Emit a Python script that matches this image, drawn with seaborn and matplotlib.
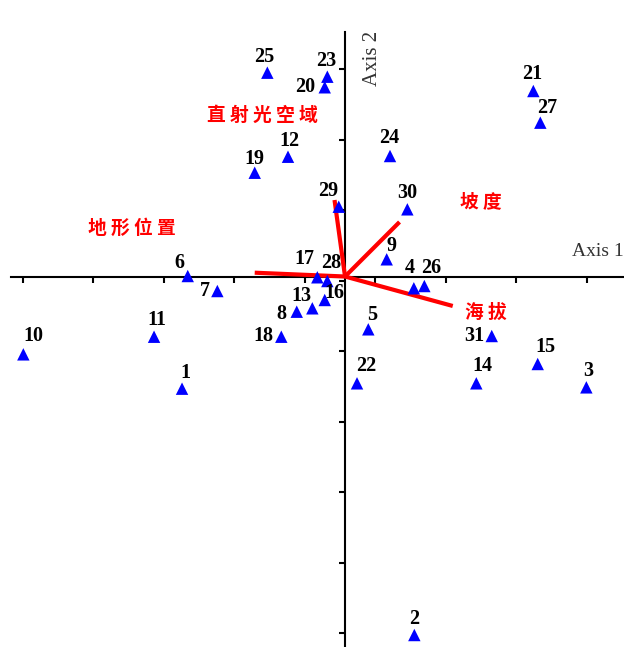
import matplotlib
matplotlib.use("Agg")
import matplotlib.pyplot as plt
import seaborn as sns
import pandas as pd

# ---- data (ordination scores, one tick interval = 1 unit) ----
sites = list(range(1, 32))
axis1 = [-2.312, 0.983, 3.423, 0.976, 0.330, -2.231, -1.811, -0.685, 0.591, -4.563,
         -2.709, -0.809, -0.464, 1.862, 2.733, -0.288, -0.393, -0.904, -1.281, -0.288,
         2.671, 0.170, -0.251, 0.638, -1.102, 1.125, 2.770, -0.251, -0.089, 0.884, 2.081]
axis2 = [-1.591, -5.085, -1.572, -0.167, -0.749, 0.007, -0.206, -0.499, 0.244, -1.104,
         -0.854, 1.699, -0.451, -1.515, -1.241, -0.333, -0.011, -0.854, 1.472, 2.684,
         2.631, -1.515, 2.834, 1.709, 2.891, -0.135, 2.182, -0.064, 0.990, 0.953, -0.844]

env_names = ["直射光空域", "地形位置", "坡度", "海拔"]
env_axis1 = [-0.149, -1.281, 0.773, 1.528]
env_axis2 = [1.085, 0.054, 0.773, -0.418]
env_label_x = [-1.177, -3.021, 1.929, 2.000]
env_label_y = [2.291, 0.688, 1.057, -0.504]

x_ticks = [-4.572 + k for k in range(9)]
y_ticks = [-5.061 + k for k in range(9)]

# label offsets (pixels) for site numbers
label_offsets = {
    1: (3, 16), 2: (0, 16), 3: (2, 16), 4: (-4, 20), 5: (4, 14), 6: (-8, 13),
    7: (-12, 0), 8: (-15, -2), 9: (5, 13), 10: (10, 18), 11: (3, 17), 12: (1, 16),
    13: (-11, 12), 14: (6, 17), 15: (8, 17), 16: (10, 7), 17: (-13, 18), 18: (-18, 1),
    19: (0, 14), 20: (-20, 0), 21: (-1, 17), 22: (9, 17), 23: (-1, 16), 24: (-1, 18),
    25: (-3, 16), 26: (7, 18), 27: (7, 15), 28: (4, 18), 29: (-11, 16), 30: (0, 16),
    31: (-17, 0),
}

df = pd.DataFrame({"site": sites, "Axis 1": axis1, "Axis 2": axis2})

sns.set_style("white")
plt.rcParams["font.family"] = ["Liberation Serif", "DejaVu Sans"]

fig = plt.figure(figsize=(6.24, 6.47), dpi=100)
ax = fig.add_axes([0, 0, 1, 1])
ax.set_xlim(-4.894, 3.957)
ax.set_ylim(-5.255, 3.922)

# axes through origin
for s in ["top", "right"]:
    ax.spines[s].set_visible(False)
ax.spines["left"].set_position(("data", 0))
ax.spines["bottom"].set_position(("data", 0))
ax.spines["left"].set_bounds(-5.255, 3.468)
ax.spines["bottom"].set_bounds(-4.74, 3.957)
for s in ["left", "bottom"]:
    ax.spines[s].set_linewidth(1.5)
    ax.spines[s].set_color("black")
    ax.spines[s].set_zorder(2)
ax.set_xticks(x_ticks)
ax.set_yticks(y_ticks)
ax.tick_params(axis="both", direction="out", length=4, width=1.5, color="black",
               bottom=True, left=True, top=False, right=False,
               labelbottom=False, labelleft=False)

# environmental vectors
for ex, ey in zip(env_axis1, env_axis2):
    ax.plot([0, ex], [0, ey], color="#ff0000", lw=3.0, solid_capstyle="butt", zorder=3)
for name, lx, ly in zip(env_names, env_label_x, env_label_y):
    ax.text(lx, ly, " ".join(name), color="#ff0000", fontsize=13.5, fontweight="bold",
            ha="center", va="center",
            family=["Noto Sans CJK TC", "DejaVu Sans"], zorder=5)

# sites
sns.scatterplot(data=df, x="Axis 1", y="Axis 2", marker="^", s=80, color="#0000ff",
                edgecolor="none", linewidth=0, ax=ax, zorder=4, legend=False)
ax.set_xlabel("")
ax.set_ylabel("")
for sid, x, y in zip(sites, axis1, axis2):
    dx, dy = label_offsets[sid]
    ax.annotate(str(sid), (x, y), xytext=(dx, dy), textcoords="offset pixels",
                ha="center", va="center", fontsize=14.5, fontweight="bold", color="black",
                zorder=6)

ax.text(3.22, 0.352, "Axis 1", fontsize=14, color="#333333", ha="left", va="center")
ax.text(0.383, 3.10, "Axis 2", fontsize=15, color="#333333", ha="center", va="center",
        rotation=90)

fig.savefig("out.png", dpi=100, facecolor="white")
